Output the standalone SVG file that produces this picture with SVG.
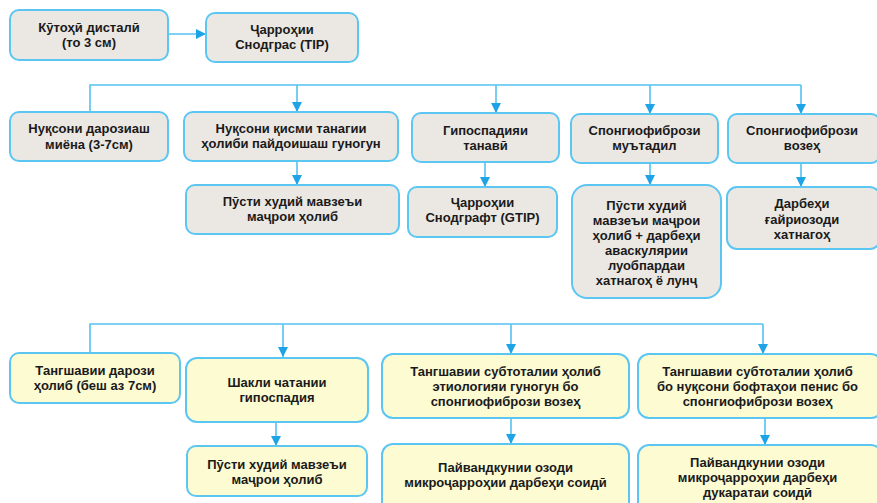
<svg xmlns="http://www.w3.org/2000/svg" width="877" height="503" viewBox="0 0 877 503">
<defs>
<marker id="ah" markerUnits="userSpaceOnUse" markerWidth="10" markerHeight="10" refX="10" refY="5" orient="auto">
<path d="M0,0 L10,5 L0,10 z" fill="#1ea4e6"/>
</marker>
<style>
.g{fill:#ebe8e3;stroke:#5cc6f2;stroke-width:2}
.y{fill:#fcfbd2;stroke:#5cc6f2;stroke-width:2}
.t{font-family:"Liberation Sans",Arial,sans-serif;font-weight:bold;font-size:13px;fill:#1a1a1a;text-anchor:middle}
.c{fill:none;stroke:#55c2f0;stroke-width:1.6}
.a{fill:none;stroke:#55c2f0;stroke-width:1.6;marker-end:url(#ah)}
</style>
</defs>
<rect width="877" height="503" fill="#ffffff"/>
<g id="connectors">
<path class="a" d="M168,34 H206"/>
<path class="c" d="M90,112 V85 H801"/>
<path class="a" d="M297,85 V112"/>
<path class="a" d="M496,85 V113"/>
<path class="a" d="M650,85 V114"/>
<path class="a" d="M801,85 V114"/>
<path class="a" d="M297,161 V185"/>
<path class="a" d="M485,162 V187"/>
<path class="a" d="M650,163 V185"/>
<path class="a" d="M801,163 V187"/>
<path class="c" d="M90,353 V324 H763"/>
<path class="a" d="M283,324 V357"/>
<path class="a" d="M511,324 V354"/>
<path class="a" d="M763,324 V354"/>
<path class="a" d="M276,422 V446"/>
<path class="a" d="M511,418 V444"/>
<path class="a" d="M765,418 V445"/>
</g>
<g id="n1"><rect class="g" x="10" y="10" width="158" height="50" rx="9"/><text class="t" x="89" y="32">Кӯтоҳӣ дисталӣ</text><text class="t" x="89" y="47">(то 3 см)</text></g>
<g id="n2"><rect class="g" x="206" y="13" width="152" height="49" rx="9"/><text class="t" x="282" y="34">Ҷарроҳии</text><text class="t" x="282" y="49">Снодграс (TIP)</text></g>
<g id="n3"><rect class="g" x="10" y="112" width="158" height="49" rx="9"/><text class="t" x="89" y="133">Нуқсони дарозиаш</text><text class="t" x="89" y="149">миёна (3-7см)</text></g>
<g id="n4"><rect class="g" x="184" y="112" width="214" height="49" rx="9"/><text class="t" x="291" y="133">Нуқсони қисми танагии</text><text class="t" x="291" y="148">ҳолиби пайдоишаш гуногун</text></g>
<g id="n5"><rect class="g" x="412" y="113" width="147" height="49" rx="9"/><text class="t" x="485.5" y="135">Гипоспадияи</text><text class="t" x="485.5" y="150">танавӣ</text></g>
<g id="n6"><rect class="g" x="571" y="114" width="147" height="49" rx="9"/><text class="t" x="644.5" y="135">Спонгиофибрози</text><text class="t" x="644.5" y="150">муътадил</text></g>
<g id="n7"><rect class="g" x="728" y="114" width="152" height="49" rx="9"/><text class="t" x="802" y="135">Спонгиофибрози</text><text class="t" x="802" y="150">возеҳ</text></g>
<g id="n8"><rect class="g" x="186" y="185" width="213" height="49" rx="9"/><text class="t" x="292.5" y="206">Пӯсти худий мавзеъи</text><text class="t" x="292.5" y="221">маҷрои ҳолиб</text></g>
<g id="n9"><rect class="g" x="408" y="187" width="149" height="50" rx="9"/><text class="t" x="482.5" y="207">Ҷарроҳии</text><text class="t" x="482.5" y="222">Снодграфт (GTIP)</text></g>
<g id="n10"><rect class="g" x="572" y="185" width="149" height="113" rx="15"/><text class="t" x="646.5" y="210">Пӯсти худий</text><text class="t" x="646.5" y="225">мавзеъи маҷрои</text><text class="t" x="646.5" y="239.5">ҳолиб + дарбеҳи</text><text class="t" x="646.5" y="254.5">аваскулярии</text><text class="t" x="646.5" y="269.5">луобпардаи</text><text class="t" x="646.5" y="284.5">хатнагоҳ ё лунҷ</text></g>
<g id="n11"><rect class="g" x="727" y="187" width="153" height="62" rx="10"/><text class="t" x="802" y="208">Дарбеҳи</text><text class="t" x="802" y="224">ғайриозоди</text><text class="t" x="802" y="239">хатнагоҳ</text></g>
<g id="n12"><rect class="y" x="10" y="353" width="170" height="50" rx="9"/><text class="t" x="95" y="375">Тангшавии дарози</text><text class="t" x="95" y="390">ҳолиб (беш аз 7см)</text></g>
<g id="n13"><rect class="y" x="186" y="358" width="182" height="64" rx="11"/><text class="t" x="277" y="387">Шакли чатании</text><text class="t" x="277" y="402">гипоспадия</text></g>
<g id="n14"><rect class="y" x="382" y="354" width="247" height="64" rx="11"/><text class="t" x="505.5" y="376">Тангшавии субтоталии ҳолиб</text><text class="t" x="505.5" y="391">этиологияи гуногун бо</text><text class="t" x="505.5" y="406">спонгиофибрози возеҳ</text></g>
<g id="n15"><rect class="y" x="638" y="354" width="244" height="64" rx="11"/><text class="t" x="757.5" y="376">Тангшавии субтоталии ҳолиб</text><text class="t" x="757.5" y="391">бо нуқсони бофтаҳои пенис бо</text><text class="t" x="757.5" y="406">спонгиофибрози возеҳ</text></g>
<g id="n16"><rect class="y" x="187" y="446" width="180" height="50" rx="9"/><text class="t" x="277" y="469">Пӯсти худий мавзеъи</text><text class="t" x="277" y="484">маҷрои ҳолиб</text></g>
<g id="n17"><rect class="y" x="382" y="444" width="247" height="70" rx="11"/><text class="t" x="505.5" y="472">Пайвандкунии озоди</text><text class="t" x="505.5" y="487">микроҷарроҳии дарбеҳи соидӣ</text></g>
<g id="n18"><rect class="y" x="638" y="445" width="244" height="70" rx="11"/><text class="t" x="757.5" y="467">Пайвандкунии озоди</text><text class="t" x="757.5" y="482">микроҷарроҳии дарбеҳи</text><text class="t" x="757.5" y="497">дукаратаи соидӣ</text></g>
</svg>
